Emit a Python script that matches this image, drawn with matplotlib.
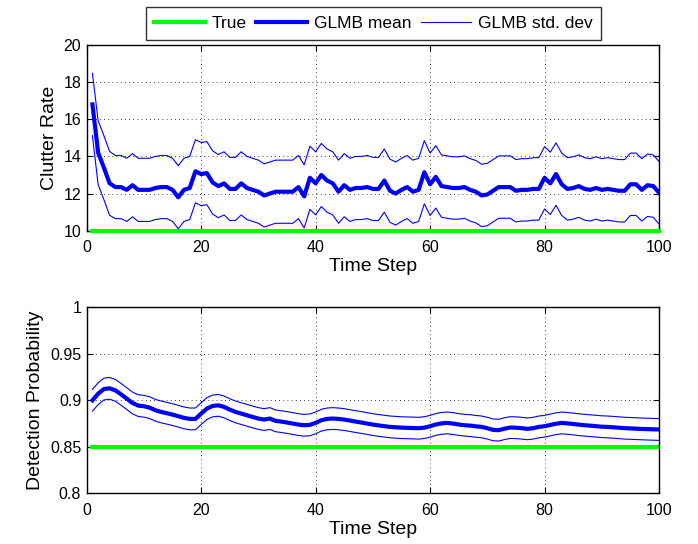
import numpy as np
import matplotlib
matplotlib.use("Agg")
import matplotlib.pyplot as plt

plt.rcParams['font.family'] = ['Liberation Sans', 'DejaVu Sans']

# time steps
steps = np.arange(1, 101)

# clutter rate
clutter_true = [10.0] * 100
clutter_mean = [
    16.8, 14.2, 13.4, 12.55, 12.35, 12.35, 12.2, 12.45, 12.2, 12.2,
    12.2, 12.3, 12.35, 12.35, 12.2, 11.8, 12.2, 12.3, 13.2, 13.05,
    13.1, 12.6, 12.4, 12.55, 12.25, 12.25, 12.55, 12.3, 12.2, 12.1,
    11.9, 12.0, 12.1, 12.1, 12.1, 12.1, 12.35, 11.85, 12.85, 12.55,
    13.0, 12.7, 12.55, 12.1, 12.45, 12.2, 12.3, 12.3, 12.35, 12.25,
    12.25, 12.7, 12.15, 12.0, 12.2, 12.35, 12.1, 12.2, 13.15, 12.5,
    12.9, 12.4, 12.35, 12.3, 12.3, 12.35, 12.2, 12.1, 11.9, 11.95,
    12.15, 12.35, 12.35, 12.35, 12.15, 12.2, 12.2, 12.25, 12.25, 12.85,
    12.55, 13.05, 12.5, 12.25, 12.3, 12.4, 12.25, 12.2, 12.3, 12.2,
    12.25, 12.2, 12.15, 12.15, 12.5, 12.5, 12.2, 12.45, 12.4, 12.05,
]
clutter_std = [
    1.68, 1.72, 1.72, 1.72, 1.70, 1.70, 1.70, 1.70, 1.70, 1.70,
    1.70, 1.70, 1.70, 1.70, 1.70, 1.70, 1.70, 1.70, 1.70, 1.70,
    1.70, 1.70, 1.70, 1.70, 1.70, 1.70, 1.70, 1.70, 1.70, 1.70,
    1.70, 1.70, 1.70, 1.70, 1.70, 1.70, 1.70, 1.70, 1.70, 1.70,
    1.70, 1.70, 1.70, 1.70, 1.70, 1.70, 1.70, 1.70, 1.70, 1.70,
    1.70, 1.70, 1.70, 1.70, 1.70, 1.70, 1.70, 1.70, 1.70, 1.68,
    1.68, 1.68, 1.68, 1.68, 1.68, 1.68, 1.68, 1.68, 1.68, 1.68,
    1.68, 1.68, 1.68, 1.68, 1.68, 1.68, 1.68, 1.68, 1.68, 1.68,
    1.68, 1.68, 1.68, 1.68, 1.68, 1.68, 1.68, 1.68, 1.68, 1.68,
    1.68, 1.68, 1.68, 1.68, 1.68, 1.68, 1.68, 1.68, 1.68, 1.68,
]

# detection probability
pd_true = [0.85] * 100
pd_mean = [
    0.9000, 0.9071, 0.9121, 0.9129, 0.9107, 0.9064, 0.9018, 0.8971, 0.8943, 0.8936,
    0.8921, 0.8893, 0.8875, 0.8861, 0.8846, 0.8829, 0.8811, 0.8800, 0.8800, 0.8857,
    0.8911, 0.8939, 0.8946, 0.8929, 0.8900, 0.8875, 0.8857, 0.8839, 0.8821, 0.8804,
    0.8793, 0.8804, 0.8779, 0.8771, 0.8761, 0.8750, 0.8739, 0.8732, 0.8736, 0.8757,
    0.8786, 0.8800, 0.8804, 0.8800, 0.8793, 0.8782, 0.8771, 0.8761, 0.8750, 0.8739,
    0.8730, 0.8722, 0.8714, 0.8710, 0.8706, 0.8704, 0.8702, 0.8700, 0.8706, 0.8721,
    0.8740, 0.8752, 0.8757, 0.8750, 0.8740, 0.8732, 0.8728, 0.8720, 0.8714, 0.8700,
    0.8682, 0.8679, 0.8695, 0.8707, 0.8705, 0.8700, 0.8693, 0.8700, 0.8714, 0.8721,
    0.8735, 0.8748, 0.8757, 0.8752, 0.8745, 0.8738, 0.8732, 0.8727, 0.8722, 0.8716,
    0.8714, 0.8710, 0.8705, 0.8700, 0.8698, 0.8695, 0.8692, 0.8690, 0.8688, 0.8686,
]
pd_std = [0.0117] * 100

fig = plt.figure(figsize=(6.98, 5.44), dpi=100)
ax1 = fig.add_axes([86.7 / 698, 1 - 230.7 / 544, (659 - 86.7) / 698, (230.7 - 45) / 544])
ax2 = fig.add_axes([86.7 / 698, 1 - 493.3 / 544, (659 - 86.7) / 698, (493.3 - 307.3) / 544])

cm = np.array(clutter_mean)
cs = np.array(clutter_std)
h_true, = ax1.plot(steps, clutter_true, color='#00ff00', lw=3, clip_on=False, zorder=5)
h_mean, = ax1.plot(steps, cm, color='#0000ff', lw=3)
h_std, = ax1.plot(steps, cm + cs, color='#0000ff', lw=0.8)
ax1.plot(steps, cm - cs, color='#0000ff', lw=0.8)
ax1.set_ylim(10, 20)
ax1.set_yticks([10, 12, 14, 16, 18, 20])
ax1.set_ylabel('Clutter Rate', fontsize=14)

pm = np.array(pd_mean)
ps = np.array(pd_std)
ax2.plot(steps, pd_true, color='#00ff00', lw=3)
ax2.plot(steps, pm, color='#0000ff', lw=3)
ax2.plot(steps, pm + ps, color='#0000ff', lw=0.8)
ax2.plot(steps, pm - ps, color='#0000ff', lw=0.8)
ax2.set_ylim(0.8, 1.0)
ax2.set_yticks([0.8, 0.85, 0.9, 0.95, 1.0])
ax2.set_yticklabels(['0.8', '0.85', '0.9', '0.95', '1'])
ax2.set_ylabel('Detection Probability', fontsize=14)

for ax in (ax1, ax2):
    ax.set_xlim(0, 100)
    ax.set_xticks([0, 20, 40, 60, 80, 100])
    ax.set_xlabel('Time Step', fontsize=14, labelpad=2)
    ax.grid(True, color='black', linestyle=(0, (1, 4)), linewidth=0.6)
    ax.tick_params(labelsize=11.5, direction='in', length=4, top=True, right=True, pad=4)
    ax.tick_params(axis='x', pad=7)
    for s in ax.spines.values():
        s.set_linewidth(1.0)

leg = fig.legend([h_true, h_mean, h_std], ['True', 'GLMB mean', 'GLMB std. dev'],
                 loc='upper left', bbox_to_anchor=(145.7 / 698, 1 - 7.3 / 544),
                 ncol=3, fontsize=12.5, frameon=True, fancybox=False,
                 handlelength=2.9, columnspacing=0.55, handletextpad=0.4,
                 borderpad=0.5, borderaxespad=0)
leg.get_frame().set_edgecolor('black')
leg.get_frame().set_linewidth(1.0)

fig.savefig('out.png', dpi=100)
